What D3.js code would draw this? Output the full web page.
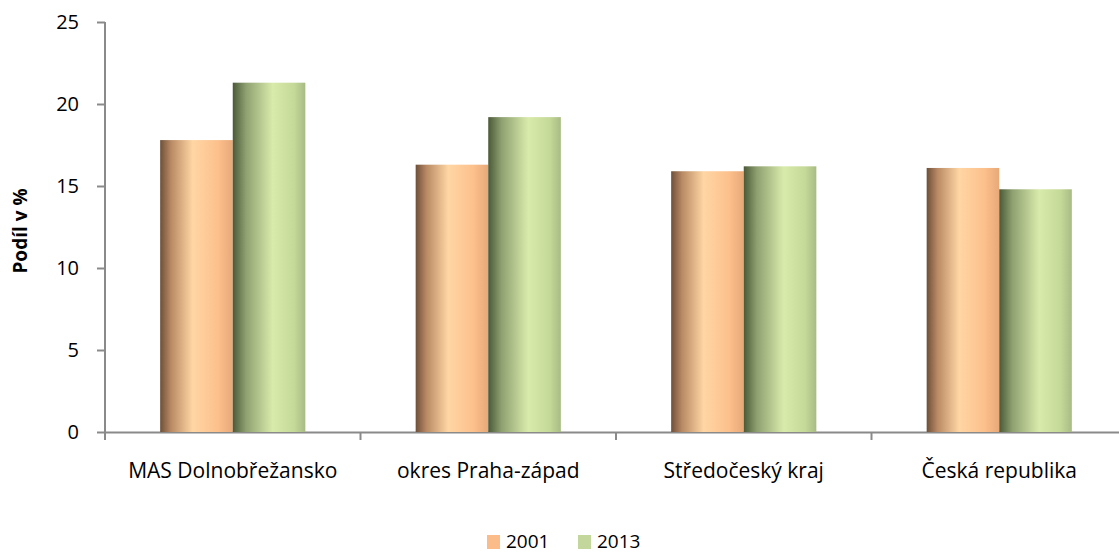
<!DOCTYPE html>
<html>
<head>
<meta charset="utf-8">
<script src="https://cdn.jsdelivr.net/npm/d3@7"></script>
<style>
  body { margin: 0; background: #fff; }
  text { font-family: "Open Sans", "Noto Sans", sans-serif; fill: #000; }
</style>
</head>
<body>
<div id="chart"></div>
<script>
var categories = ["MAS Dolnobřežansko", "okres Praha-západ", "Středočeský kraj", "Česká republika"];
var seriesNames = ["2001", "2013"];
var values2001 = [17.8, 16.3, 15.9, 16.1];
var values2013 = [21.3, 19.2, 16.2, 14.8];
var yTicks = [0, 5, 10, 15, 20, 25];

var outerWidth = 1119, outerHeight = 553;
var margin = {top: 22, right: -8, bottom: 121, left: 105};
var width = outerWidth - margin.left - margin.right,
    height = outerHeight - margin.top - margin.bottom;

var data = categories.map(function(c, i) {
    return {cat: c, vals: [{key: "2001", v: values2001[i]}, {key: "2013", v: values2013[i]}]};
});

//////// SCALES ////////
var x0 = d3.scaleBand().domain(categories).range([0, width]).paddingInner(0).paddingOuter(0);
var x1 = d3.scaleBand().domain(seriesNames).range([0, x0.bandwidth()]).paddingOuter(0.76).paddingInner(0);
var y = d3.scaleLinear().domain([0, 25]).range([height, 0]);

var svg = d3.select("#chart").append("svg")
    .attr("width", outerWidth).attr("height", outerHeight);

//////// GRADIENTS ////////
var defs = svg.append("defs");
var grads = {
    "2001": [["0%", "#6e5038"], ["15%", "#b98a64"], ["45%", "#ffd6a4"], ["80%", "#fcc08c"], ["100%", "#e8a878"]],
    "2013": [["0%", "#4a5a38"], ["18%", "#8ea070"], ["55%", "#d9ebab"], ["85%", "#c4d898"], ["100%", "#a8bb84"]]
};
Object.keys(grads).forEach(function(k) {
    var g = defs.append("linearGradient").attr("id", "grad" + k)
        .attr("x1", "0%").attr("x2", "100%").attr("y1", "0%").attr("y2", "0%");
    grads[k].forEach(function(s) { g.append("stop").attr("offset", s[0]).attr("stop-color", s[1]); });
});
var blur = defs.append("filter").attr("id", "soft");
blur.append("feGaussianBlur").attr("stdDeviation", 0.6);

var g = svg.append("g").attr("transform", "translate(" + margin.left + "," + margin.top + ")");

// gridlines
g.append("g").selectAll("line")
    .data(yTicks.filter(function(t) { return t > 0; }))
    .enter().append("line")
    .attr("x1", 0).attr("x2", width)
    .attr("y1", function(d) { return y(d); }).attr("y2", function(d) { return y(d); })
    .attr("stroke", "#8a8a8a").attr("stroke-width", 2).attr("filter", "url(#soft)");

// Y axis
var yAxis = g.append("g")
    .call(d3.axisLeft(y).tickValues(yTicks).tickSize(8).tickPadding(18));
yAxis.select(".domain").attr("stroke", "#8a8a8a").attr("stroke-width", 2)
    .attr("d", "M0," + (height + 8) + "V0");
yAxis.selectAll(".tick line").attr("stroke", "#8a8a8a").attr("stroke-width", 2);
yAxis.selectAll(".tick text").style("font-size", "20px").attr("fill", "#000");

// X axis
var xAxis = g.append("g").attr("transform", "translate(0," + height + ")")
    .call(d3.axisBottom(x0).tickSize(0).tickPadding(31));
xAxis.select(".domain").attr("stroke", "#8a8a8a").attr("stroke-width", 2);
xAxis.selectAll(".tick text").style("font-size", "21px").attr("fill", "#000");
g.append("g").attr("transform", "translate(0," + height + ")")
    .selectAll("line").data(categories.slice(1))
    .enter().append("line")
    .attr("x1", function(d) { return x0(d); }).attr("x2", function(d) { return x0(d); })
    .attr("y1", 0).attr("y2", 8)
    .attr("stroke", "#8a8a8a").attr("stroke-width", 2);

// BARS
g.append("g").selectAll("g")
    .data(data).enter().append("g")
    .attr("transform", function(d) { return "translate(" + x0(d.cat) + ",0)"; })
    .selectAll("rect")
    .data(function(d) { return d.vals; })
    .enter().append("rect")
    .attr("x", function(d) { return x1(d.key); })
    .attr("y", function(d) { return y(d.v); })
    .attr("width", x1.bandwidth())
    .attr("height", function(d) { return y(0) - y(d.v); })
    .attr("fill", function(d) { return "url(#grad" + d.key + ")"; });

// Y label
svg.append("text")
    .attr("transform", "translate(27," + (margin.top + height / 2 + 4) + ") rotate(-90)")
    .attr("text-anchor", "middle")
    .style("font-size", "19px").style("font-weight", "bold")
    .text("Podíl v %");

// Legend
var legendColors = {"2001": "#fbbc8a", "2013": "#c3d69b"};
var legend = svg.append("g").attr("transform", "translate(487,535)");
seriesNames.forEach(function(s, i) {
    var lg = legend.append("g").attr("transform", "translate(" + (i * 91) + ",0)");
    lg.append("rect").attr("width", 13).attr("height", 14).attr("fill", legendColors[s]);
    lg.append("text").attr("x", 19).attr("y", 13).style("font-size", "19px").text(s);
});
</script>
</body>
</html>
